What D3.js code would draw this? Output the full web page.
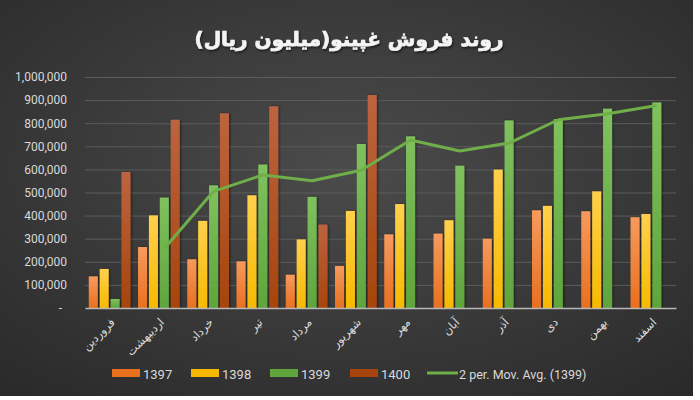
<!DOCTYPE html>
<html><head><meta charset="utf-8">
<script src="https://cdn.jsdelivr.net/npm/d3@7"></script>
<style>body{margin:0;background:#ffffff;} svg{display:block;}</style>
</head><body><svg id="c" width="700" height="400"></svg>
<script>
// ---- data ----
const months = ["فروردین","اردیبهشت","خرداد","تیر","مرداد","شهریور","مهر","آبان","آذر","دی","بهمن","اسفند"];
const seriesNames = ["1397","1398","1399","1400"];
const v1397 = [137000,264000,211000,202000,144000,182000,319000,322000,300000,423000,419000,393000];
const v1398 = [169000,401000,377000,488000,297000,420000,450000,380000,599000,442000,505000,407000];
const v1399 = [39000,478000,531000,621000,481000,710000,743000,616000,812000,818000,863000,890000];
const v1400 = [589000,815000,843000,873000,361000,922000,null,null,null,null,null,null];
const movAvg1399 = [null,258000,505000,576000,551000,596000,727000,680000,714000,815000,841000,877000];
const yTicks = [0,100000,200000,300000,400000,500000,600000,700000,800000,900000,1000000];
const titleText = "روند فروش غپینو(میلیون ریال)";
const trendLabel = "2 per. Mov. Avg. (1399)";

const seriesValues = [v1397, v1398, v1399, v1400];
const colors = {
  "1397": ["#f79a5c", "#e8701f"],
  "1398": ["#ffd04d", "#f6b900"],
  "1399": ["#80c15e", "#5fa53c"],
  "1400": ["#bd6440", "#a7440c"]
};
const lineColor = "#6fae48";

const svg = d3.select("#c");
const defs = svg.append("defs");

// background
const bg = defs.append("radialGradient").attr("id","bg").attr("cx","50%").attr("cy","42%").attr("r","75%");
bg.append("stop").attr("offset","0%").attr("stop-color","#4b4b4b");
bg.append("stop").attr("offset","100%").attr("stop-color","#2a2a2a");
svg.append("rect").attr("x",0).attr("y",0).attr("width",693).attr("height",396).attr("fill","url(#bg)");

seriesNames.forEach((s,i)=>{
  const g = defs.append("linearGradient").attr("id","g"+s).attr("x1",0).attr("y1",0).attr("x2",0).attr("y2",1);
  g.append("stop").attr("offset","0%").attr("stop-color",colors[s][0]);
  g.append("stop").attr("offset","100%").attr("stop-color",colors[s][1]);
});
const sh = defs.append("filter").attr("id","sh").attr("x","-30%").attr("y","-10%").attr("width","160%").attr("height","120%");
sh.append("feDropShadow").attr("dx",1.2).attr("dy",0).attr("stdDeviation",0.8).attr("flood-color","#000").attr("flood-opacity",0.45);
const tsh = defs.append("filter").attr("id","tsh");
tsh.append("feDropShadow").attr("dx",1).attr("dy",1.5).attr("stdDeviation",1).attr("flood-color","#000").attr("flood-opacity",0.6);

// scales
const plotL = 85, plotR = 676, plotT = 77, plotB = 308;
const x0 = d3.scaleBand().domain(months).range([plotL,plotR]).paddingInner(0.153).paddingOuter(0.0765);
const x1 = d3.scaleBand().domain(seriesNames).range([0,x0.bandwidth()]).paddingInner(0.17).paddingOuter(0);
const y = d3.scaleLinear().domain([0,1000000]).range([plotB,plotT]);

// title
svg.append("text").attr("x",349).attr("y",46).attr("text-anchor","middle")
  .attr("direction","rtl")
  .attr("font-family","DejaVu Sans").attr("font-weight","bold").attr("font-size",20)
  .attr("fill","#f4f4f4").attr("stroke","#f4f4f4").attr("stroke-width",0.7)
  .attr("filter","url(#tsh)").text(titleText);

// gridlines
const grid = svg.append("g").attr("transform",`translate(${plotL},0)`)
  .call(d3.axisLeft(y).tickValues(yTicks.filter(d=>d>0)).tickSize(-(plotR-plotL)).tickFormat(""));
grid.select(".domain").remove();
grid.selectAll("line").attr("stroke","#5c5c5c").attr("stroke-width",1);

// y axis labels
const ya = svg.append("g").attr("transform",`translate(${plotL},0)`)
  .call(d3.axisLeft(y).tickValues(yTicks).tickSize(0).tickPadding(18)
    .tickFormat(d=> d===0 ? "-" : d3.format(",")(d)));
ya.select(".domain").remove();
ya.selectAll("text").attr("font-family","Roboto").attr("font-size",12).attr("fill","#d9d9d9")
  .attr("dx", d=> d===0 ? -5 : 0);

// bars
const rows = months.map((m,i)=>({m, vals: seriesNames.map((s,j)=>({s, v: seriesValues[j][i]}))}));
const cg = svg.append("g").selectAll("g").data(rows).join("g")
  .attr("transform", d=>`translate(${x0(d.m)},0)`);
cg.selectAll("rect").data(d=>d.vals.filter(e=>e.v!=null)).join("rect")
  .attr("x", e=>x1(e.s)).attr("width", x1.bandwidth())
  .attr("y", e=>y(e.v)).attr("height", e=>y(0)-y(e.v))
  .attr("fill", e=>`url(#g${e.s})`).attr("filter","url(#sh)");

// x axis
const xa = svg.append("g").attr("transform",`translate(0,${plotB})`)
  .call(d3.axisBottom(x0).tickSize(0));
xa.select(".domain").attr("stroke","#b8b8b8").attr("stroke-width",1.5);
xa.selectAll("text").attr("x",0).attr("y",0).attr("dy",null)
  .attr("text-anchor","end").attr("transform","translate(6,15) rotate(-45)")
  .attr("font-family","DejaVu Sans").attr("font-size",11.5).attr("fill","#dcdcdc");

// moving average trendline
const lineGen = d3.line()
  .defined(d=>d.v!=null)
  .x(d=>x0(d.m)+x1("1399")+x1.bandwidth()/2)
  .y(d=>y(d.v));
svg.append("path").datum(months.map((m,i)=>({m, v: movAvg1399[i]})))
  .attr("d", lineGen).attr("fill","none").attr("stroke",lineColor).attr("stroke-width",3)
  .attr("stroke-linejoin","round");

// legend
const legendX = [112,191,270,350];
const lg = svg.append("g");
const items = lg.selectAll("g").data(seriesNames).join("g")
  .attr("transform",(d,i)=>`translate(${legendX[i]},369)`);
items.append("rect").attr("width",28).attr("height",8).attr("fill",d=>colors[d][1]);
items.append("text").attr("x",31).attr("y",9.5).attr("font-family","Roboto").attr("font-size",13)
  .attr("fill","#d9d9d9").text(d=>d);
const li = lg.append("g").attr("transform","translate(427,369)");
li.append("line").attr("x1",0).attr("x2",31).attr("y1",4).attr("y2",4).attr("stroke",lineColor).attr("stroke-width",3);
li.append("text").attr("x",32).attr("y",9.5).attr("font-family","Roboto").attr("font-size",12.5)
  .attr("fill","#d9d9d9").text(trendLabel);
</script>
</body></html>
